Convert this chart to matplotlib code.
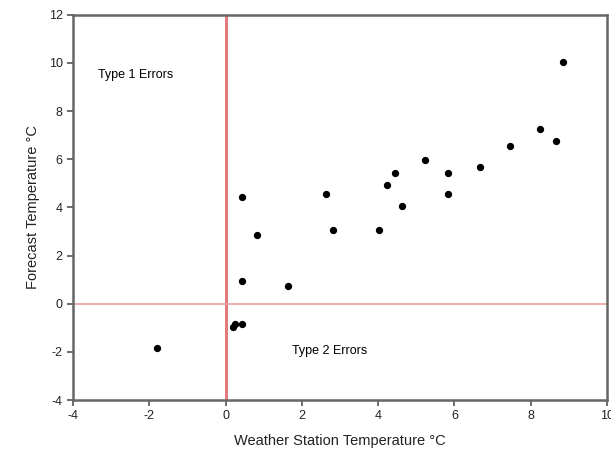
import matplotlib
matplotlib.use("Agg")
import matplotlib.pyplot as plt

plt.rcParams['font.family'] = ['Liberation Sans', 'DejaVu Sans']
plt.rcParams['axes.unicode_minus'] = False

# station vs forecast temperatures
station_temp = [-1.8, 0.2, 0.25, 0.42, 0.42, 0.42, 0.82, 1.63, 2.63, 2.82, 4.03,
                4.23, 4.45, 4.63, 5.24, 5.84, 5.84, 6.66, 7.45, 8.24, 8.66, 8.84]
forecast_temp = [-1.85, -0.95, -0.85, -0.85, 0.95, 4.45, 2.85, 0.75, 4.56, 3.05, 3.05,
                 4.95, 5.45, 4.05, 5.97, 5.45, 4.56, 5.67, 6.55, 7.26, 6.76, 10.05]
x_ticks = [-4, -2, 0, 2, 4, 6, 8, 10]
y_ticks = [-4, -2, 0, 2, 4, 6, 8, 10, 12]

fig = plt.figure(figsize=(6.11, 4.63), dpi=100)
ax = fig.add_axes([0.1195, 0.136, 0.874, 0.832])

ax.axvline(0, color='#e07c7c', lw=2.2, zorder=1)
ax.axhline(0, color='#e8a0a0', lw=1.2, zorder=1)
ax.scatter(station_temp, forecast_temp, s=18, color='black', zorder=3)

ax.text(-3.35, 9.5, "Type 1 Errors", fontsize=9, va='center')
ax.text(1.75, -1.98, "Type 2 Errors", fontsize=9, va='center')

ax.set_xlim(-4, 10)
ax.set_ylim(-4, 12)
ax.set_xticks(x_ticks)
ax.set_yticks(y_ticks)
ax.tick_params(direction='out', length=4, width=1.2, color='#555555',
               labelsize=9, labelcolor='#222222')
for sp in ax.spines.values():
    sp.set_color('#666666')
    sp.set_linewidth(1.8)

ax.set_xlabel("Weather Station Temperature °C", fontsize=10.5, color='#222222', labelpad=8)
ax.set_ylabel("Forecast Temperature °C", fontsize=10.5, color='#222222', labelpad=6)

fig.savefig("out.png", dpi=100)
plt.close(fig)
